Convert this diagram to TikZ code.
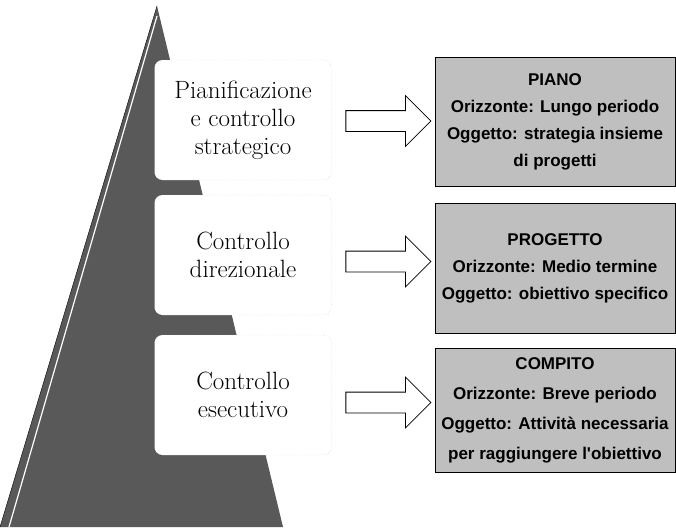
\documentclass[tikz,border=0pt]{standalone}
\usepackage{fontspec}
\usepackage{tikz}
\usetikzlibrary{shapes,shapes.arrows,calc}
\newfontfamily\boxfont{Liberation Sans}
\tikzstyle{level_box} = [rectangle, draw=gray!70, dotted, fill=white, rounded corners=8pt, minimum width=177pt, minimum height=120pt, align=center, font=\fontsize{25}{28}\selectfont]
\tikzstyle{level_arrow} = [single arrow, draw, thick, fill=white, minimum height=85pt, single arrow head extend=15pt, inner xsep=0pt, inner ysep=10pt]
\tikzstyle{info_box} = [rectangle, draw, thick, fill=gray!50, minimum width=240pt, inner xsep=3pt, align=center, font=\boxfont\bfseries\fontsize{17}{27}\selectfont]

\begin{document}
\begin{tikzpicture}[x=1pt,y=-1pt]
		\useasboundingbox (0,0) rectangle (676,527);
		% piramide
		\fill[black!65] (157,6) -- (283,527) -- (0,527) -- cycle;
		\draw[white, line width=1.2pt] (157,16) -- (9,527);
		\draw (157,6) -- (0,527);
		
		\node (L1) at (243,120) [level_box] {Pianificazione\\e controllo\\strategico};
		\node (L2) at (243,255) [level_box] {Controllo\\direzionale};
		\node (L3) at (243,395) [level_box] {Controllo\\esecutivo};
		
		\node (R1) at (555,122) [info_box, minimum height=129pt] {PIANO\\Orizzonte: Lungo periodo\\Oggetto: strategia insieme\\di progetti};
		\node (R2) at (555,268) [info_box, minimum height=130pt] {PROGETTO\\Orizzonte: Medio termine\\Oggetto: obiettivo specifico};
		\node (R3) at (555,410) [info_box, minimum height=124pt, font=\boxfont\bfseries\fontsize{17}{30}\selectfont] {COMPITO\\Orizzonte: Breve periodo\\Oggetto: Attività necessaria\\per raggiungere l'obiettivo};
		
		\node (A1) at ($(L1.east)!0.5!(R1.west)$) [level_arrow] {};
		\node (A2) at ($(L2.east)!0.5!(R2.west)$) [level_arrow] {};
		\node (A3) at ($(L3.east)!0.5!(R3.west)$) [level_arrow] {};
\end{tikzpicture}
\end{document}
